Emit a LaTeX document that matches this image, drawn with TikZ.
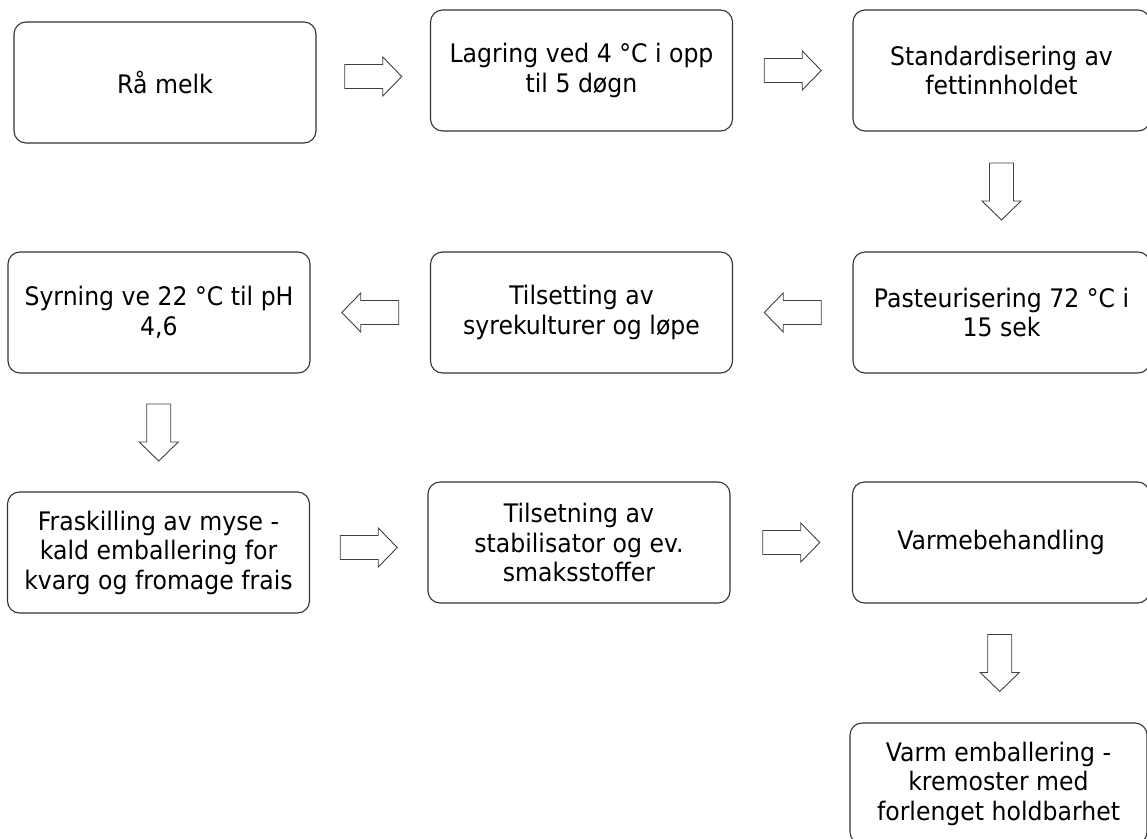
\documentclass[tikz,border=0pt]{standalone}
\usepackage{fontspec}
\setmainfont{DejaVu Sans}[FakeStretch=0.925]
\usetikzlibrary{calc}
\tikzset{
 stepbox/.style={draw=black!80, line width=1.1pt, rounded corners=12pt, minimum width=302pt, minimum height=121pt, align=center, inner sep=0pt, font=\fontsize{25.5}{29.5}\selectfont, text=black},
 barrow/.style={draw=black!75, line width=0.9pt, fill=white, line join=miter},
 blockarrow/.pic={\draw[barrow] (-28.5,-12) -- (9.5,-12) -- (9.5,-19.5) -- (28.5,0) -- (9.5,19.5) -- (9.5,12) -- (-28.5,12) -- cycle;}
}
\begin{document}
\begin{tikzpicture}[x=1pt,y=1pt]
\useasboundingbox (0,0) rectangle (1147,-838);
\fill[white] (0,0) rectangle (1147,-838);
% row 1
\node[stepbox] (A) at (165,-82.5) {Rå melk};
\node[stepbox] (B) at (581.5,-70.5) {Lagring ved 4 °C i opp\\til 5 døgn};
\node[stepbox, minimum width=297pt] (C) at (1001.5,-70.5) {Standardisering av\\fettinnholdet};
% row 2
\node[stepbox] (D) at (159,-312.5) {Syrning ve 22 °C til pH\\4,6};
\node[stepbox] (E) at (581.5,-312.5) {Tilsetting av\\syrekulturer og løpe};
\node[stepbox, minimum width=297pt] (F) at (1001.5,-312.5) {Pasteurisering 72 °C i\\15 sek};
% row 3
\node[stepbox] (G) at (158.5,-552.5) {Fraskilling av myse -\\kald emballering for\\kvarg og fromage frais};
\node[stepbox] (H) at (579,-542.5) {Tilsetning av\\stabilisator og ev.\\smaksstoffer};
\node[stepbox, minimum width=297pt] (I) at (1001,-542.5) {Varmebehandling};
% bottom
\node[stepbox, minimum width=297pt] (J) at (998.5,-783.5) {Varm emballering -\\kremoster med\\forlenget holdbarhet};
% block arrows placed between the named boxes
\coordinate (ab) at ($(A.east)!0.5!(B.west)$);
\coordinate (bc) at ($(B.east)!0.5!(C.west)$);
\coordinate (cf) at ($(C.south)!0.5!(F.north)$);
\coordinate (fe) at ($(F.west)!0.5!(E.east)$);
\coordinate (ed) at ($(E.west)!0.5!(D.east)$);
\coordinate (dg) at ($(D.south)!0.5!(G.north)$);
\coordinate (gh) at ($(G.east)!0.5!(H.west)$);
\coordinate (hi) at ($(H.east)!0.5!(I.west)$);
\coordinate (ij) at ($(I.south)!0.5!(J.north)$);
\pic at (ab) {blockarrow};
\pic at (bc) {blockarrow};
\pic[rotate=-90] at (cf) {blockarrow};
\pic[rotate=180] at (fe) {blockarrow};
\pic[rotate=180] at (ed) {blockarrow};
\pic[rotate=-90] at (dg) {blockarrow};
\pic at (gh) {blockarrow};
\pic at (hi) {blockarrow};
\pic[rotate=-90] at (ij) {blockarrow};
\end{tikzpicture}
\end{document}
